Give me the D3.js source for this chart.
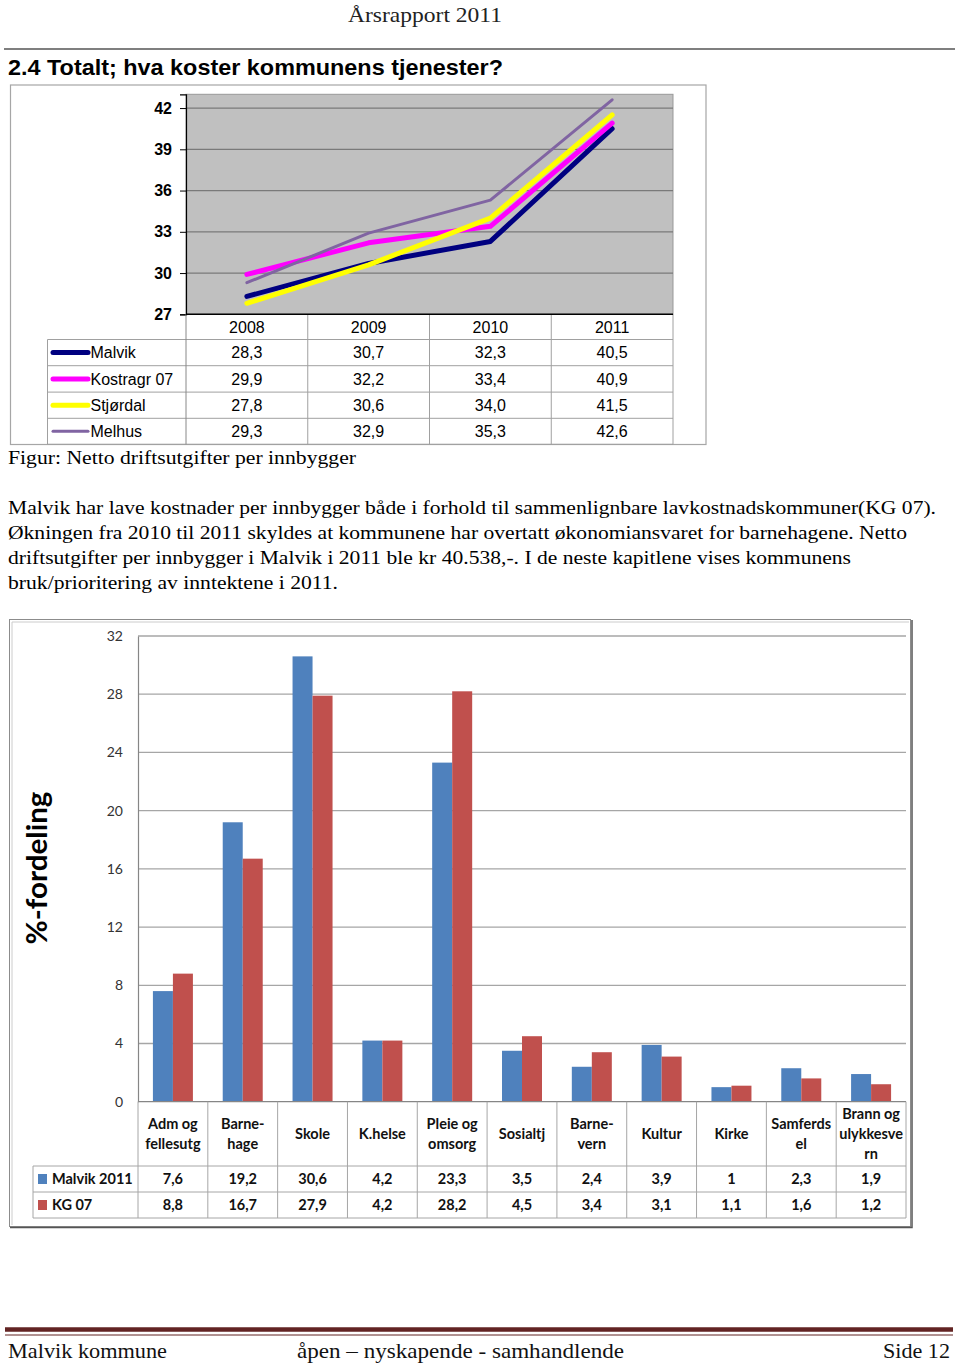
<!DOCTYPE html>
<html>
<head>
<meta charset="utf-8">
<script src="https://cdn.jsdelivr.net/npm/d3@7"></script>
<style>
  html, body { margin: 0; padding: 0; background: #fff; }
  svg { display: block; }
</style>
</head>
<body>
<div id="chart"></div>
<script>
// ---------- DATA ----------
const years = ["2008", "2009", "2010", "2011"];
const lineSeriesNames = ["Malvik", "Kostragr 07", "Stjørdal", "Melhus"];
const malvikCost = [28.3, 30.7, 32.3, 40.5];
const kostragrCost = [29.9, 32.2, 33.4, 40.9];
const stjordalCost = [27.8, 30.6, 34.0, 41.5];
const melhusCost = [29.3, 32.9, 35.3, 42.6];
const lineTicks = [27, 30, 33, 36, 39, 42];

const barCategories = ["Adm og\nfellesutg", "Barne-\nhage", "Skole", "K.helse", "Pleie og\nomsorg",
  "Sosialtj", "Barne-\nvern", "Kultur", "Kirke", "Samferds\nel", "Brann og\nulykkesve\nrn"];
const barSeriesNames = ["Malvik 2011", "KG 07"];
const malvik2011 = [7.6, 19.2, 30.6, 4.2, 23.3, 3.5, 2.4, 3.9, 1, 2.3, 1.9];
const kg07 = [8.8, 16.7, 27.9, 4.2, 28.2, 4.5, 3.4, 3.1, 1.1, 1.6, 1.2];
const barTicks = [0, 4, 8, 12, 16, 20, 24, 28, 32];

const paragraph = [
  "Malvik har lave kostnader per innbygger både i forhold til sammenlignbare lavkostnadskommuner(KG 07).",
  "Økningen fra 2010 til 2011 skyldes at kommunene har overtatt økonomiansvaret for barnehagene. Netto",
  "driftsutgifter per innbygger i Malvik i 2011 ble kr 40.538,-. I de neste kapitlene vises kommunens",
  "bruk/prioritering av inntektene i 2011."
];

// ---------- STYLES ----------
const lineStyle = [
  { color: "#000080", width: 5 },
  { color: "#ff00ff", width: 5 },
  { color: "#ffff00", width: 5 },
  { color: "#8064a2", width: 3 }
];
const barColors = ["#4f81bd", "#c0504d"];
const serif = "'Liberation Serif', 'Times New Roman', serif";
const arial = "'Liberation Sans', Arial, sans-serif";
const narrow = "'Liberation Sans Narrow', 'Liberation Sans', Arial, sans-serif";
const calibri = "Lato, 'Open Sans', sans-serif";

const W = 960, H = 1363;
const svg = d3.select("#chart").append("svg").attr("width", W).attr("height", H)
  .style("font-family", arial);

function fit(sel, w) { return sel.attr("textLength", w).attr("lengthAdjust", "spacingAndGlyphs"); }
const commaFmt = f => v => f(v).replace(".", ",");

// ---------- PAGE HEADER ----------
fit(svg.append("text").attr("x", 348).attr("y", 22).attr("font-family", serif)
  .attr("font-size", 21).attr("fill", "#222").text("Årsrapport 2011"), 154);
svg.append("line").attr("x1", 4).attr("x2", 955).attr("y1", 49).attr("y2", 49)
  .attr("stroke", "#555").attr("stroke-width", 1.5);
fit(svg.append("text").attr("x", 8).attr("y", 75).attr("font-family", narrow)
  .attr("font-weight", "bold").attr("font-size", 22).attr("fill", "#000")
  .text("2.4 Totalt; hva koster kommunens tjenester?"), 495);

// ---------- LINE CHART ----------
const lc = { left: 186, right: 673, top: 94.3, bottom: 314.3 };
svg.append("rect").attr("x", 10.5).attr("y", 85).attr("width", 695.5).attr("height", 359.5)
  .attr("fill", "#fff").attr("stroke", "#a6a6a6").attr("stroke-width", 1.2);

const xL = d3.scaleBand().domain(years).range([lc.left, lc.right]);
const yL = d3.scaleLinear().domain([27, 43]).range([lc.bottom, lc.top]);

svg.append("rect").attr("x", lc.left).attr("y", lc.top).attr("width", lc.right - lc.left)
  .attr("height", lc.bottom - lc.top).attr("fill", "#c0c0c0").attr("stroke", "#999").attr("stroke-width", 1);

// gridlines
svg.append("g").selectAll("line").data(lineTicks.filter(t => t > 27)).join("line")
  .attr("x1", lc.left).attr("x2", lc.right).attr("y1", d => yL(d)).attr("y2", d => yL(d))
  .attr("stroke", "#7a7a7a").attr("stroke-width", 1.3);

// y axis
const yAxisL = svg.append("g").attr("transform", `translate(${lc.left},0)`)
  .call(d3.axisLeft(yL).tickValues(lineTicks).tickSize(6).tickPadding(8));
yAxisL.select(".domain").attr("stroke", "#000").attr("stroke-width", 1.2);
yAxisL.selectAll(".tick line").attr("stroke", "#000");
yAxisL.selectAll("text").attr("font-family", arial).attr("font-size", 16).attr("font-weight", "bold")
  .attr("fill", "#000");

// lines
const lineSeries = [malvikCost, kostragrCost, stjordalCost, melhusCost];
const lineGen = d3.line().x((d, i) => xL(years[i]) + xL.bandwidth() / 2).y(d => yL(d));
svg.append("g").selectAll("path").data(lineSeries).join("path")
  .attr("d", d => lineGen(d)).attr("fill", "none")
  .attr("stroke", (d, i) => lineStyle[i].color).attr("stroke-width", (d, i) => lineStyle[i].width)
  .attr("stroke-linecap", "round").attr("stroke-linejoin", "round");

// data table
const rowTops = [314.3, 339.5, 365.7, 392.1, 418.3, 444.3];
const tg = svg.append("g");
const gridC = "#a0a0a0";
// horizontal lines
rowTops.slice(1).forEach(y => {
  tg.append("line").attr("x1", 47.5).attr("x2", lc.right).attr("y1", y).attr("y2", y)
    .attr("stroke", gridC).attr("stroke-width", 1);
});
// vertical lines
tg.append("line").attr("x1", 47.5).attr("x2", 47.5).attr("y1", rowTops[1]).attr("y2", rowTops[5]).attr("stroke", gridC);
years.forEach((yr, i) => {
  const x = xL(yr);
  tg.append("line").attr("x1", x).attr("x2", x).attr("y1", lc.bottom).attr("y2", rowTops[5])
    .attr("stroke", i === 0 ? "#888" : gridC);
});
tg.append("line").attr("x1", lc.right).attr("x2", lc.right).attr("y1", lc.bottom).attr("y2", rowTops[5]).attr("stroke", gridC);
// x axis line (black)
tg.append("line").attr("x1", lc.left).attr("x2", lc.right).attr("y1", lc.bottom).attr("y2", lc.bottom)
  .attr("stroke", "#000").attr("stroke-width", 1.5);

// year header
tg.selectAll("text.yr").data(years).join("text").attr("class", "yr")
  .attr("x", d => xL(d) + xL.bandwidth() / 2).attr("y", (rowTops[0] + rowTops[1]) / 2)
  .attr("dy", "0.36em").attr("text-anchor", "middle").attr("font-size", 16).attr("fill", "#000").text(d => d);

const f1 = commaFmt(d3.format(".1f"));
lineSeries.forEach((vals, r) => {
  const cy = (rowTops[r + 1] + rowTops[r + 2]) / 2;
  tg.append("line").attr("x1", 53).attr("x2", 88).attr("y1", cy).attr("y2", cy)
    .attr("stroke", lineStyle[r].color).attr("stroke-width", lineStyle[r].width).attr("stroke-linecap", "round");
  tg.append("text").attr("x", 90.5).attr("y", cy).attr("dy", "0.36em").attr("font-size", 16)
    .attr("fill", "#000").text(lineSeriesNames[r]);
  vals.forEach((v, i) => {
    tg.append("text").attr("x", xL(years[i]) + xL.bandwidth() / 2).attr("y", cy).attr("dy", "0.36em")
      .attr("text-anchor", "middle").attr("font-size", 16).attr("fill", "#000").text(f1(v));
  });
});

// caption
fit(svg.append("text").attr("x", 8).attr("y", 464).attr("font-family", serif).attr("font-size", 19.5)
  .attr("fill", "#000").text("Figur: Netto driftsutgifter per innbygger"), 348);

// paragraph
const paraWidths = [928, 899, 843, 330];
paragraph.forEach((line, i) => {
  fit(svg.append("text").attr("x", 8).attr("y", 514 + i * 25).attr("font-family", serif)
    .attr("font-size", 19.5).attr("fill", "#000").text(line), paraWidths[i]);
});

// ---------- BAR CHART ----------
const bc = { left: 138, right: 906, top: 636, bottom: 1101.7 };
// frame
svg.append("rect").attr("x", 9.5).attr("y", 619.5).attr("width", 901).attr("height", 607)
  .attr("fill", "#fff").attr("stroke", "#8c8c8c").attr("stroke-width", 1);
svg.append("path").attr("d", `M912,620 V1227.5 H10`).attr("fill", "none").attr("stroke", "#555").attr("stroke-width", 1.5);
svg.append("path").attr("d", `M12,1225 V622 H909`).attr("fill", "none").attr("stroke", "#ccc").attr("stroke-width", 1);

const xB = d3.scaleBand().domain(barCategories).range([bc.left, bc.right]);
const yB = d3.scaleLinear().domain([0, 32]).range([bc.bottom, bc.top]);
const innerW = 40;
const xB1 = d3.scaleBand().domain([0, 1]).range([0, innerW]);

// gridlines
svg.append("g").selectAll("line").data(barTicks.filter(t => t > 0)).join("line")
  .attr("x1", bc.left).attr("x2", bc.right).attr("y1", d => yB(d)).attr("y2", d => yB(d))
  .attr("stroke", "#a6a6a6").attr("stroke-width", 1.3);

// y axis
const yAxisB = svg.append("g").attr("transform", `translate(${bc.left},0)`)
  .call(d3.axisLeft(yB).tickValues(barTicks).tickSize(0).tickPadding(15));
yAxisB.select(".domain").attr("stroke", "#868686").attr("stroke-width", 1.2);
yAxisB.selectAll("text").attr("font-family", calibri).attr("font-size", 14).attr("fill", "#333");

// y title
fit(svg.append("text").attr("transform", "translate(47,868) rotate(-90)").attr("text-anchor", "middle")
  .attr("font-family", calibri).attr("font-weight", "bold").attr("font-size", 29).attr("fill", "#000")
  .text("%-fordeling"), 153);

// bars
const barSeries = [malvik2011, kg07];
const bg = svg.append("g");
barSeries.forEach((vals, s) => {
  bg.selectAll(null).data(vals).join("rect")
    .attr("x", (d, i) => xB(barCategories[i]) + (xB.bandwidth() - innerW) / 2 + xB1(s))
    .attr("width", xB1.bandwidth())
    .attr("y", d => yB(d)).attr("height", d => yB(0) - yB(d))
    .attr("fill", barColors[s]);
});

// data table
const bRows = [bc.bottom, 1166, 1192, 1218];
const btg = svg.append("g");
const bGrid = "#a6a6a6";
btg.append("line").attr("x1", bc.left).attr("x2", bc.right).attr("y1", bc.bottom).attr("y2", bc.bottom)
  .attr("stroke", "#868686").attr("stroke-width", 1.3);
[1166, 1192, 1218].forEach(y => {
  btg.append("line").attr("x1", 33).attr("x2", bc.right).attr("y1", y).attr("y2", y).attr("stroke", bGrid);
});
btg.append("line").attr("x1", 33).attr("x2", 33).attr("y1", 1166).attr("y2", 1218).attr("stroke", bGrid);
barCategories.forEach(c => {
  const x = xB(c);
  btg.append("line").attr("x1", x).attr("x2", x).attr("y1", bc.bottom).attr("y2", 1218).attr("stroke", bGrid);
});
btg.append("line").attr("x1", bc.right).attr("x2", bc.right).attr("y1", bc.bottom).attr("y2", 1218).attr("stroke", bGrid);

// category labels
barCategories.forEach(c => {
  const lines = c.split("\n");
  const cx = xB(c) + xB.bandwidth() / 2;
  const cy = 1134;
  lines.forEach((ln, k) => {
    btg.append("text").attr("x", cx).attr("y", cy + (k - (lines.length - 1) / 2) * 20).attr("dy", "0.35em")
      .attr("text-anchor", "middle").attr("font-family", calibri).attr("font-weight", "bold")
      .attr("font-size", 14.5).attr("fill", "#111").text(ln);
  });
});

// series rows
const fB = v => String(v).replace(".", ",");
barSeries.forEach((vals, s) => {
  const cy = (bRows[s + 1] + bRows[s + 2]) / 2;
  btg.append("rect").attr("x", 38).attr("y", cy - 5).attr("width", 9).attr("height", 10).attr("fill", barColors[s]);
  btg.append("text").attr("x", 52).attr("y", cy).attr("dy", "0.35em").attr("font-family", calibri)
    .attr("font-weight", "bold").attr("font-size", 14.5).attr("fill", "#111").text(barSeriesNames[s]);
  vals.forEach((v, i) => {
    btg.append("text").attr("x", xB(barCategories[i]) + xB.bandwidth() / 2).attr("y", cy).attr("dy", "0.35em")
      .attr("text-anchor", "middle").attr("font-family", calibri).attr("font-weight", "bold")
      .attr("font-size", 14.5).attr("fill", "#111").text(fB(v));
  });
});

// ---------- FOOTER ----------
svg.append("line").attr("x1", 5).attr("x2", 953).attr("y1", 1329.5).attr("y2", 1329.5)
  .attr("stroke", "#622423").attr("stroke-width", 4.5);
svg.append("line").attr("x1", 5).attr("x2", 953).attr("y1", 1335).attr("y2", 1335)
  .attr("stroke", "#622423").attr("stroke-width", 1);
fit(svg.append("text").attr("x", 8).attr("y", 1358).attr("font-family", serif).attr("font-size", 21)
  .attr("fill", "#111").text("Malvik kommune"), 159);
fit(svg.append("text").attr("x", 297).attr("y", 1358).attr("font-family", serif).attr("font-size", 21)
  .attr("fill", "#111").text("åpen – nyskapende - samhandlende"), 327);
fit(svg.append("text").attr("x", 883).attr("y", 1358).attr("font-family", serif).attr("font-size", 21)
  .attr("fill", "#111").text("Side 12"), 67);
</script>
</body>
</html>
